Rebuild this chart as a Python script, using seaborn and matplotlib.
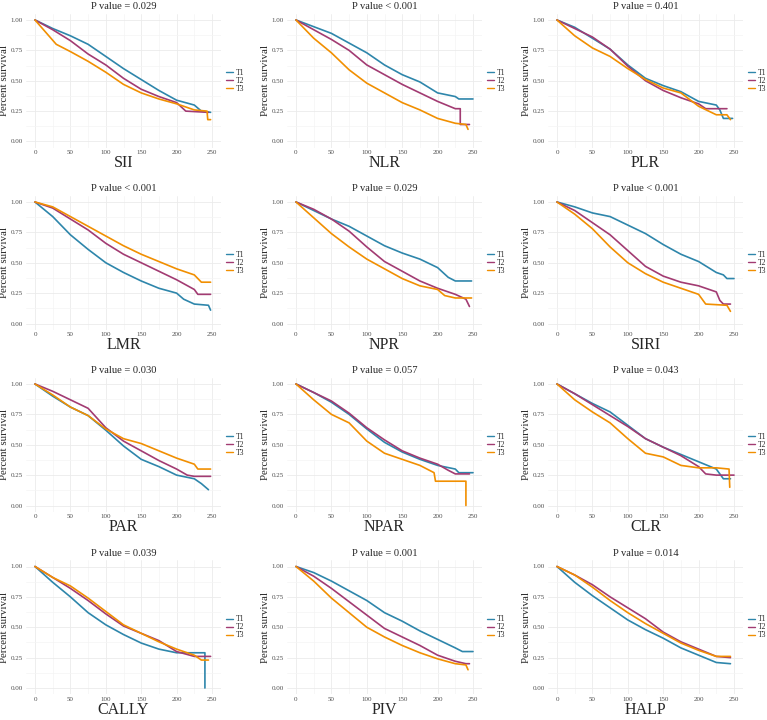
import matplotlib
matplotlib.use("Agg")
import matplotlib.pyplot as plt
import seaborn as sns
import pandas as pd

# ---------------- data ----------------
markers = ["SII", "NLR", "PLR", "LMR", "NPR", "SIRI", "PAR", "NPAR", "CLR", "CALLY", "PIV", "HALP"]
p_labels = ["P value = 0.029", "P value < 0.001", "P value = 0.401",
            "P value < 0.001", "P value = 0.029", "P value < 0.001",
            "P value = 0.030", "P value = 0.057", "P value = 0.043",
            "P value = 0.039", "P value = 0.001", "P value = 0.014"]
groups = ["T1", "T2", "T3"]
colors = ["#2E86AB", "#A23B72", "#F18F01"]
x_ticks = [0, 50, 100, 150, 200, 250]
y_ticks = [0.00, 0.25, 0.50, 0.75, 1.00]

SII = {
    "T1": ([0, 25, 50, 75, 100, 125, 150, 175, 200, 225, 235, 248],
           [1.0, 0.93, 0.87, 0.80, 0.70, 0.60, 0.51, 0.42, 0.34, 0.30, 0.25, 0.24]),
    "T2": ([0, 25, 50, 75, 100, 125, 150, 175, 200, 213, 245],
           [1.0, 0.92, 0.83, 0.72, 0.63, 0.52, 0.43, 0.37, 0.32, 0.25, 0.24]),
    "T3": ([0, 12, 30, 50, 75, 100, 125, 150, 175, 200, 225, 243, 244, 248],
           [1.0, 0.92, 0.80, 0.74, 0.66, 0.57, 0.47, 0.40, 0.35, 0.31, 0.26, 0.25, 0.18, 0.18]),
}
NLR = {
    "T1": ([0, 25, 50, 75, 100, 125, 150, 175, 200, 225, 230, 250],
           [1.0, 0.945, 0.89, 0.81, 0.73, 0.63, 0.55, 0.49, 0.40, 0.37, 0.35, 0.35]),
    "T2": ([0, 25, 50, 75, 100, 125, 150, 175, 200, 225, 232, 232, 245],
           [1.0, 0.92, 0.84, 0.75, 0.63, 0.55, 0.47, 0.40, 0.33, 0.27, 0.27, 0.14, 0.14]),
    "T3": ([0, 25, 50, 75, 100, 125, 150, 175, 200, 225, 240, 243],
           [1.0, 0.85, 0.73, 0.59, 0.48, 0.40, 0.32, 0.26, 0.19, 0.15, 0.14, 0.10]),
}
PLR = {
    "T1": ([0, 25, 50, 75, 100, 125, 150, 175, 200, 225, 230, 235, 248],
           [1.0, 0.94, 0.85, 0.76, 0.63, 0.52, 0.46, 0.41, 0.33, 0.30, 0.26, 0.19, 0.19]),
    "T2": ([0, 25, 50, 75, 100, 125, 150, 175, 200, 210, 240],
           [1.0, 0.93, 0.86, 0.76, 0.62, 0.50, 0.42, 0.36, 0.31, 0.27, 0.27]),
    "T3": ([0, 25, 50, 75, 100, 125, 150, 175, 200, 225, 240, 245],
           [1.0, 0.87, 0.77, 0.70, 0.60, 0.51, 0.44, 0.40, 0.29, 0.22, 0.22, 0.18]),
}
LMR = {
    "T1": ([0, 25, 50, 75, 100, 125, 150, 175, 200, 210, 225, 245, 248],
           [1.0, 0.88, 0.73, 0.61, 0.50, 0.42, 0.35, 0.29, 0.25, 0.20, 0.16, 0.15, 0.11]),
    "T2": ([0, 25, 50, 75, 100, 125, 150, 175, 200, 225, 230, 248],
           [1.0, 0.95, 0.86, 0.77, 0.66, 0.57, 0.50, 0.43, 0.36, 0.28, 0.24, 0.24]),
    "T3": ([0, 25, 50, 75, 100, 125, 150, 175, 200, 225, 230, 235, 248],
           [1.0, 0.96, 0.88, 0.80, 0.72, 0.64, 0.57, 0.51, 0.45, 0.40, 0.37, 0.34, 0.34]),
}
NPR = {
    "T1": ([0, 25, 50, 75, 100, 125, 150, 175, 200, 215, 225, 248],
           [1.0, 0.93, 0.86, 0.80, 0.72, 0.64, 0.58, 0.53, 0.46, 0.38, 0.35, 0.35]),
    "T2": ([0, 25, 50, 75, 100, 125, 150, 175, 200, 225, 240, 245],
           [1.0, 0.94, 0.86, 0.76, 0.63, 0.51, 0.43, 0.35, 0.29, 0.24, 0.20, 0.14]),
    "T3": ([0, 25, 50, 75, 100, 125, 150, 175, 200, 210, 225, 248],
           [1.0, 0.87, 0.74, 0.63, 0.53, 0.45, 0.37, 0.31, 0.28, 0.23, 0.21, 0.21]),
}
SIRI = {
    "T1": ([0, 25, 50, 75, 100, 125, 150, 175, 200, 225, 235, 240, 250],
           [1.0, 0.96, 0.91, 0.88, 0.81, 0.74, 0.65, 0.57, 0.51, 0.42, 0.40, 0.37, 0.37]),
    "T2": ([0, 25, 50, 75, 100, 125, 150, 175, 200, 225, 230, 235, 245],
           [1.0, 0.93, 0.83, 0.73, 0.60, 0.47, 0.39, 0.34, 0.31, 0.26, 0.19, 0.16, 0.16]),
    "T3": ([0, 25, 50, 75, 100, 125, 150, 175, 200, 210, 240, 245],
           [1.0, 0.90, 0.78, 0.63, 0.50, 0.41, 0.34, 0.29, 0.24, 0.16, 0.15, 0.10]),
}
PAR = {
    "T1": ([0, 25, 50, 75, 100, 125, 150, 175, 200, 225, 235, 245],
           [1.0, 0.90, 0.81, 0.74, 0.62, 0.49, 0.38, 0.32, 0.25, 0.22, 0.18, 0.13]),
    "T2": ([0, 25, 50, 75, 100, 125, 150, 175, 200, 215, 225, 248],
           [1.0, 0.94, 0.87, 0.80, 0.64, 0.53, 0.45, 0.37, 0.30, 0.25, 0.24, 0.24]),
    "T3": ([0, 25, 50, 75, 100, 125, 150, 175, 200, 225, 230, 248],
           [1.0, 0.91, 0.81, 0.74, 0.63, 0.55, 0.51, 0.45, 0.39, 0.34, 0.30, 0.30]),
}
NPAR = {
    "T1": ([0, 25, 50, 75, 100, 125, 150, 175, 200, 225, 230, 250],
           [1.0, 0.93, 0.85, 0.75, 0.63, 0.52, 0.44, 0.38, 0.33, 0.30, 0.27, 0.27]),
    "T2": ([0, 25, 50, 75, 100, 125, 150, 175, 200, 215, 225, 245],
           [1.0, 0.93, 0.86, 0.76, 0.64, 0.54, 0.45, 0.39, 0.34, 0.29, 0.26, 0.26]),
    "T3": ([0, 25, 50, 75, 100, 125, 150, 175, 195, 197, 240, 240],
           [1.0, 0.87, 0.75, 0.68, 0.53, 0.43, 0.38, 0.33, 0.27, 0.20, 0.20, 0.0]),
}
CLR = {
    "T1": ([0, 25, 50, 75, 100, 125, 150, 175, 200, 225, 235, 245],
           [1.0, 0.92, 0.84, 0.77, 0.66, 0.55, 0.48, 0.42, 0.36, 0.30, 0.22, 0.22]),
    "T2": ([0, 25, 50, 75, 100, 125, 150, 175, 200, 210, 225, 250],
           [1.0, 0.92, 0.83, 0.74, 0.65, 0.55, 0.48, 0.41, 0.32, 0.26, 0.25, 0.25]),
    "T3": ([0, 25, 50, 75, 100, 125, 150, 175, 200, 225, 243, 244],
           [1.0, 0.87, 0.77, 0.68, 0.55, 0.43, 0.40, 0.33, 0.31, 0.31, 0.30, 0.15]),
}
CALLY = {
    "T1": ([0, 25, 50, 75, 100, 125, 150, 175, 200, 240, 240],
           [1.0, 0.87, 0.75, 0.62, 0.52, 0.44, 0.37, 0.32, 0.29, 0.29, 0.0]),
    "T2": ([0, 25, 50, 75, 100, 125, 150, 175, 200, 225, 248],
           [1.0, 0.91, 0.82, 0.72, 0.61, 0.51, 0.45, 0.39, 0.30, 0.26, 0.26]),
    "T3": ([0, 25, 50, 75, 100, 125, 150, 175, 200, 225, 235, 245],
           [1.0, 0.91, 0.84, 0.74, 0.63, 0.52, 0.45, 0.38, 0.32, 0.27, 0.23, 0.23]),
}
PIV = {
    "T1": ([0, 25, 50, 75, 100, 125, 150, 175, 200, 225, 235, 250],
           [1.0, 0.95, 0.88, 0.80, 0.72, 0.62, 0.55, 0.47, 0.40, 0.33, 0.30, 0.30]),
    "T2": ([0, 25, 50, 75, 100, 125, 150, 175, 200, 225, 240, 245],
           [1.0, 0.92, 0.82, 0.71, 0.60, 0.49, 0.42, 0.35, 0.27, 0.22, 0.20, 0.20]),
    "T3": ([0, 25, 50, 75, 100, 125, 150, 175, 200, 225, 240, 243],
           [1.0, 0.88, 0.74, 0.62, 0.50, 0.42, 0.35, 0.29, 0.24, 0.20, 0.19, 0.15]),
}
HALP = {
    "T1": ([0, 25, 50, 75, 100, 125, 150, 175, 200, 225, 245],
           [1.0, 0.87, 0.76, 0.66, 0.56, 0.48, 0.41, 0.33, 0.27, 0.21, 0.20]),
    "T2": ([0, 25, 50, 75, 100, 125, 150, 175, 200, 225, 245],
           [1.0, 0.93, 0.85, 0.75, 0.66, 0.57, 0.46, 0.38, 0.32, 0.26, 0.25]),
    "T3": ([0, 25, 50, 75, 100, 125, 150, 175, 200, 225, 245],
           [1.0, 0.93, 0.83, 0.72, 0.62, 0.53, 0.45, 0.37, 0.31, 0.26, 0.26]),
}
panel_data = [SII, NLR, PLR, LMR, NPR, SIRI, PAR, NPAR, CLR, CALLY, PIV, HALP]

# ---------------- style ----------------
sns.set_theme(style="whitegrid")
plt.rcParams["font.family"] = ["Liberation Serif", "DejaVu Serif"]

W, H = 767, 720
fig = plt.figure(figsize=(W / 100, H / 100), dpi=100)

col_x0 = [35, 296, 557]          # pixel of t=0
row_y1 = [20, 202, 384, 566.5]   # pixel of survival=1.00
px_per_x = 177 / 250
px_per_y = 121.5

for i, (name, ptxt, data) in enumerate(zip(markers, p_labels, panel_data)):
    r, c = divmod(i, 3)
    left = col_x0[c] - 12.5 * px_per_x
    width = 275 * px_per_x
    top = row_y1[r] - 0.05 * px_per_y
    height = 1.1 * px_per_y
    ax = fig.add_axes([left / W, 1 - (top + height) / H, width / W, height / H])

    rows = []
    for g in groups:
        ts, ss = data[g]
        for t, s in zip(ts, ss):
            rows.append({"time": t, "surv": s, "group": g})
    df = pd.DataFrame(rows)
    sns.lineplot(data=df, x="time", y="surv", hue="group", hue_order=groups,
                 palette=colors, estimator=None, sort=False, linewidth=1.2,
                 ax=ax, legend=True)

    ax.set_xlim(-12.5, 262.5)
    ax.set_ylim(-0.05, 1.05)
    ax.set_xticks(x_ticks)
    ax.set_xticks([25, 75, 125, 175, 225], minor=True)
    ax.set_yticks(y_ticks)
    ax.set_yticks([0.125, 0.375, 0.625, 0.875], minor=True)
    ax.set_yticklabels([f"{v:.2f}" for v in y_ticks])
    ax.set_facecolor("white")
    for sp in ax.spines.values():
        sp.set_visible(False)
    ax.grid(which="major", color="#EBEBEB", linewidth=0.6)
    ax.grid(which="minor", color="#F4F4F4", linewidth=0.5)
    ax.tick_params(axis="y", which="major", length=2, width=0.5, color="#555555",
                   labelsize=5, labelcolor="#4D4D4D", pad=0.5)
    ax.tick_params(axis="x", which="major", length=0, labelsize=5,
                   labelcolor="#4D4D4D", pad=2)
    ax.tick_params(which="minor", length=0)

    ax.set_title(ptxt, fontsize=7.6, pad=3.5)
    ax.set_xlabel(name, fontsize=11.5, labelpad=0)
    ax.set_ylabel("Percent survival", fontsize=7.8, labelpad=1)

    leg = ax.legend(loc="center left", bbox_to_anchor=(1.0, 0.5), frameon=False,
                    fontsize=5.5, handlelength=0.9, handletextpad=0.3,
                    labelspacing=0.0, borderaxespad=0.3)
    for h in leg.get_lines():
        h.set_linewidth(1.0)

fig.savefig("out.png", dpi=100, facecolor="white")
